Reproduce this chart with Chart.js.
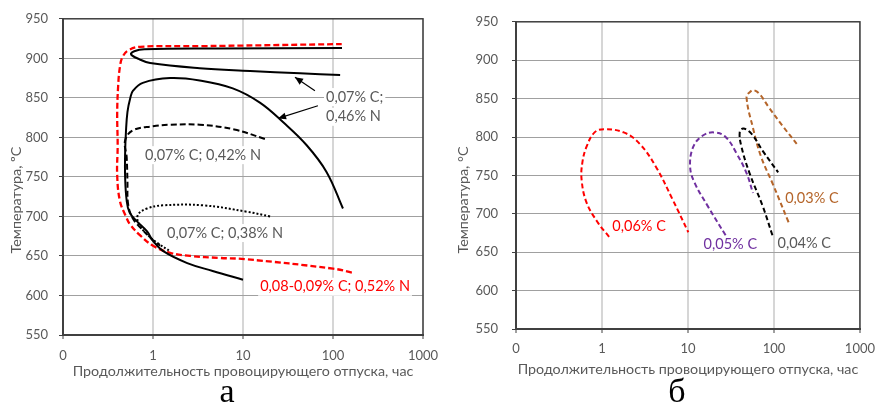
<!DOCTYPE html>
<html lang="ru">
<head>
<meta charset="utf-8">
<script src="https://cdn.jsdelivr.net/npm/chart.js@4.4.0/dist/chart.umd.min.js"></script>
<style>
  html, body { margin: 0; padding: 0; background: #fff; }
  body { width: 883px; height: 405px; position: relative; overflow: hidden; }
  canvas { position: absolute; top: 0; }
  #chartA { left: 0; }
  #chartB { left: 450px; }
</style>
</head>
<body>
<canvas id="chartA" width="450" height="405"></canvas>
<canvas id="chartB" width="433" height="405"></canvas>
<script>
  // ── axes ──────────────────────────────────────────────────────────────────
  const X_TICKS       = [0.1, 1, 10, 100, 1000];
  const X_TICK_LABELS = ['0', '1', '10', '100', '1000'];
  const Y_MIN = 550, Y_MAX = 950, Y_STEP = 50;
  const X_TITLE = 'Продолжительность провоцирующего отпуска, час';

  // ── panel а : [hours, °C] ─────────────────────────────────────────────────
  const a_C089_N052 = [[162,629],[100,634],[10.5,646],[5.5,647.5],[2.6,650],[1.55,654],[1,663],
    [0.72,676],[0.555,690],[0.5,700],[0.43,719],[0.40,752],[0.405,790],[0.40,830],[0.41,865],
    [0.43,890],[0.46,902],[0.53,910],[0.72,914.6],[3.3,915.4],[125,918]];
  const a_C07_N046_upper = [[126,913],[5,912.5],[0.8,911.5],[0.62,909],[0.57,905],[0.7,899],
    [0.93,894],[3.3,887.5],[12,884],[43,881],[120,879]];
  const a_C07_N046_lower = [[129,710],[85,756],[51,790],[28,819],[15.4,844],[7.7,862],[3.3,872],
    [1.55,875],[0.77,869],[0.6,859],[0.56,850],[0.52,832],[0.5,806],[0.49,780],[0.49,750],
    [0.51,720],[0.55,705],[0.66,694],[0.86,681],[1,669],[1.3,656],[2.4,641],[4.6,631],[10,620]];
  const a_C07_N042 = [[17.5,798],[8,810],[3.3,816],[1.55,816],[1,814],[0.6,809],[0.49,796],
    [0.51,775],[0.52,745],[0.53,715],[0.6,697],[0.75,684],[1,670],[1.2,663]];
  const a_C07_N038 = [[20,700],[11,706],[3.6,714],[1.29,714],[0.86,710],[0.68,702],[0.7,690],
    [0.85,678],[1.1,667],[1.5,657]];

  // ── panel б ───────────────────────────────────────────────────────────────
  const b_C06 = [[1.21,670],[0.89,689],[0.66,715],[0.58,744],[0.59,766],[0.66,787],[0.82,806],
    [1.06,810],[1.79,806],[2.75,791],[4.25,761],[6.6,719],[10.1,676]];
  const b_C05 = [[27.4,672],[17,710],[12,740],[10.6,761],[11.5,787],[14.9,802],[20.2,806],
    [27.4,800],[37,778],[48,753],[57,727]];
  const b_C04 = [[96,672],[74,710],[52,753],[42,787],[40,806],[44,811],[55,804],[74,782],[112,754]];
  const b_C03 = [[148,689],[96,740],[71,774],[57,812],[48,852],[53,859],[58,861],[68,856],
    [88,838],[125,815],[184,791]];

  const TEXT  = '#595959';
  const FRAME = '#404040';
  const FONT  = 'Lato, "Open Sans", sans-serif';
  const LABEL_FONT = '14.5px ' + FONT;

  function line(data, color, dash, width) {
    return {
      data: data.map(p => ({ x: p[0], y: p[1] })),
      borderColor: color, borderDash: dash, borderWidth: width,
      showLine: true, fill: false, tension: 0.4,
      pointRadius: 0, pointHoverRadius: 0,
    };
  }

  // labels, arrows, frame, rotated y title and panel letter
  function annotPlugin(cfg) {
    const px = (c, p) => [c.scales.x.getPixelForValue(p[0]), c.scales.y.getPixelForValue(p[1])];
    return {
      id: 'annot',
      beforeDatasetsDraw(c) {
        const ctx = c.ctx, a = c.chartArea;
        ctx.save();
        ctx.font = LABEL_FONT;
        if (cfg.boxes) {
          cfg.labels.forEach(l => {
            const [x, y] = px(c, l.at);
            const w = ctx.measureText(l.text).width;
            ctx.fillStyle = '#fff';
            ctx.fillRect(x - 2, y - 9, w + 4, 18);
          });
        }
        ctx.strokeStyle = FRAME;
        ctx.lineWidth = 1.5;
        ctx.strokeRect(a.left, a.top, a.right - a.left, a.bottom - a.top);
        ctx.restore();
      },
      afterDatasetsDraw(c) {
        const ctx = c.ctx;
        ctx.save();
        ctx.font = LABEL_FONT;
        ctx.textBaseline = 'middle';
        ctx.textAlign = 'left';
        cfg.labels.forEach(l => {
          const [x, y] = px(c, l.at);
          ctx.fillStyle = l.color;
          ctx.fillText(l.text, x, y);
        });
        ctx.strokeStyle = '#000';
        ctx.fillStyle = '#000';
        ctx.lineWidth = 1.2;
        (cfg.arrows || []).forEach(ar => {
          const [x1, y1] = px(c, ar.from), [x2, y2] = px(c, ar.to);
          const ang = Math.atan2(y2 - y1, x2 - x1);
          ctx.beginPath(); ctx.moveTo(x1, y1); ctx.lineTo(x2, y2); ctx.stroke();
          ctx.beginPath();
          ctx.moveTo(x2, y2);
          ctx.lineTo(x2 - 8 * Math.cos(ang) + 3.5 * Math.sin(ang), y2 - 8 * Math.sin(ang) - 3.5 * Math.cos(ang));
          ctx.lineTo(x2 - 8 * Math.cos(ang) - 3.5 * Math.sin(ang), y2 - 8 * Math.sin(ang) + 3.5 * Math.cos(ang));
          ctx.closePath(); ctx.fill();
        });
        // y title
        ctx.font = '14.3px ' + FONT;
        ctx.fillStyle = TEXT;
        ctx.textAlign = 'center';
        ctx.translate(cfg.yTitle.x, cfg.yTitle.y);
        ctx.rotate(-Math.PI / 2);
        ctx.fillText(cfg.yTitle.text, 0, 0);
        ctx.restore();
        // panel letter
        ctx.save();
        ctx.font = '34px "Liberation Serif", "Times New Roman", serif';
        ctx.fillStyle = '#000';
        ctx.textAlign = 'center';
        ctx.textBaseline = 'alphabetic';
        ctx.fillText(cfg.letter.text, cfg.letter.x, cfg.letter.y);
        ctx.restore();
      },
    };
  }

  function options(o) {
    return {
      responsive: false,
      animation: false,
      events: [],
      layout: { padding: o.padding },
      plugins: { legend: { display: false }, tooltip: { enabled: false } },
      scales: {
        x: {
          type: 'logarithmic', min: 0.1, max: 1000,
          afterBuildTicks: s => { s.ticks = X_TICKS.map(v => ({ value: v })); },
          afterFit: s => { s.height = o.xHeight; },
          ticks: {
            callback: (v, i) => X_TICK_LABELS[i],
            color: TEXT, font: { family: FONT, size: 13 },
            padding: o.xPad, maxRotation: 0, autoSkip: false,
          },
          grid:   { color: '#d6d6d6', lineWidth: 2, tickLength: 4, tickColor: FRAME, tickWidth: 1 },
          border: { color: FRAME, width: 2 },
          title:  { display: true, text: X_TITLE, color: TEXT, font: { family: FONT, size: 14.3 },
                    padding: { top: 4, bottom: 4 } },
        },
        y: {
          min: Y_MIN, max: Y_MAX,
          afterFit: s => { s.width = o.yWidth; },
          ticks:  { stepSize: Y_STEP, color: TEXT, font: { family: FONT, size: 13 }, padding: o.yPad },
          grid:   { color: '#a0a0a0', lineWidth: 1, tickLength: 4, tickColor: FRAME },
          border: { color: FRAME, width: 2 },
        },
      },
    };
  }

  new Chart(document.getElementById('chartA'), {
    type: 'scatter',
    data: {
      datasets: [
        line(a_C07_N046_upper, '#000', [], 2),
        line(a_C07_N046_lower, '#000', [], 2),
        line(a_C07_N042, '#000', [6, 3], 2),
        line(a_C07_N038, '#000', [2, 2], 2),
        line(a_C089_N052, '#ff0000', [6, 3], 2.3),
      ],
    },
    options: options({ padding: { left: 0, top: 15, right: 27, bottom: 21 },
                       xHeight: 49, yWidth: 63, xPad: 9, yPad: 11 }),
    plugins: [annotPlugin({
      boxes: true,
      labels: [
        { text: '0,07% C;', at: [83.6, 851], color: TEXT },
        { text: '0,46% N', at: [83.6, 826], color: TEXT },
        { text: '0,07% C; 0,42% N', at: [0.815, 777.5], color: TEXT },
        { text: '0,07% C; 0,38% N', at: [1.43, 679], color: TEXT },
        { text: '0,08-0,09% C; 0,52% N', at: [15.5, 611], color: '#ff0000' },
      ],
      arrows: [
        { from: [63, 859], to: [37.8, 876] },
        { from: [68, 840], to: [24.5, 824] },
      ],
      yTitle: { text: 'Температура, ºC', x: 16, y: 200 },
      letter: { text: 'а', x: 227, y: 402 },
    })],
  });

  new Chart(document.getElementById('chartB'), {
    type: 'scatter',
    data: {
      datasets: [
        line(b_C06, '#ff0000', [5, 3], 2),
        line(b_C05, '#7030a0', [5, 3], 2),
        line(b_C04, '#000', [5, 3], 2),
        line(b_C03, '#b5652a', [5, 3], 2),
      ],
    },
    options: options({ padding: { left: 0, top: 15, right: 13, bottom: 23 },
                       xHeight: 53, yWidth: 66, xPad: 8, yPad: 14 }),
    plugins: [annotPlugin({
      boxes: false,
      labels: [
        { text: '0,06% C', at: [1.32, 684], color: '#ff0000' },
        { text: '0,05% C', at: [15.2, 660], color: '#7030a0' },
        { text: '0,04% C', at: [110, 661], color: TEXT },
        { text: '0,03% C', at: [135, 720], color: '#b5652a' },
      ],
      arrows: [],
      yTitle: { text: 'Температура, °C', x: 13, y: 200 },
      letter: { text: 'б', x: 227, y: 402 },
    })],
  });
</script>
</body>
</html>
